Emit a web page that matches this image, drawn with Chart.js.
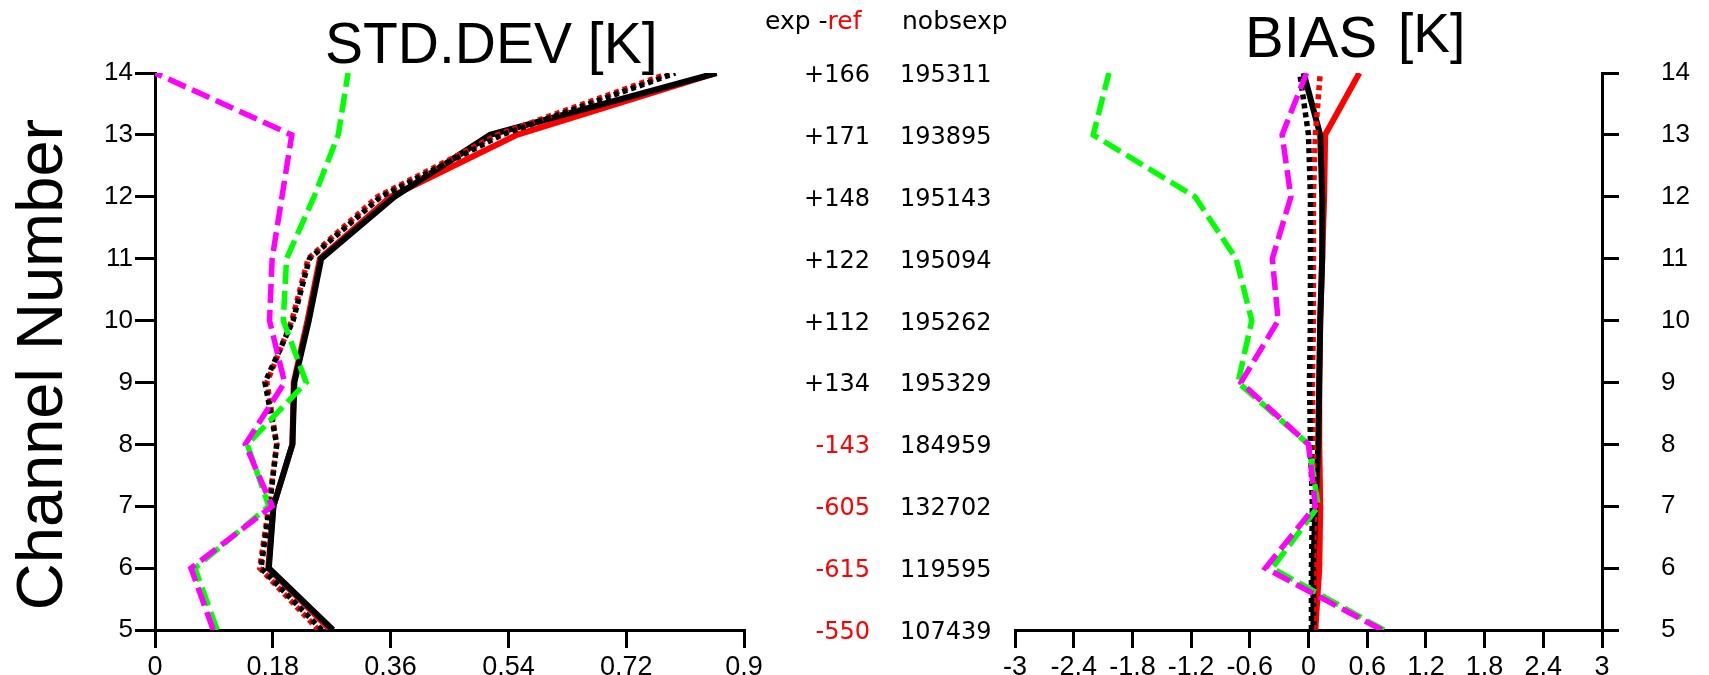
<!DOCTYPE html>
<html>
<head>
<meta charset="utf-8">
<title>STD.DEV / BIAS by channel</title>
<script src="https://cdn.jsdelivr.net/npm/chart.js@4.4.1/dist/chart.umd.min.js"></script>
<style>
  html, body { margin: 0; padding: 0; background: #fff; }
  #wrap { position: relative; width: 1709px; height: 675px; overflow: hidden; background: #fff; }
  #stdCanvas { position: absolute; left: 0; top: 0; }
  #biasCanvas { position: absolute; left: 1000px; top: 0; }
</style>
</head>
<body>
<div id="wrap">
  <canvas id="stdCanvas" width="1040" height="675"></canvas>
  <canvas id="biasCanvas" width="709" height="675"></canvas>
</div>
<script>
// Channel numbers (vertical axis), bottom to top
const channels = [5, 6, 7, 8, 9, 10, 11, 12, 13, 14];

// Tick labels
const stdTicks  = [0, 0.18, 0.36, 0.54, 0.72, 0.9];
const biasTicks = [-3, -2.4, -1.8, -1.2, -0.6, 0, 0.6, 1.2, 1.8, 2.4, 3];

// Standard deviation [K] per channel
const stdExpSolid   = [0.272, 0.174, 0.181, 0.210, 0.213, 0.235, 0.254, 0.366, 0.512, 0.858];
const stdRefSolid   = [0.268, 0.173, 0.181, 0.210, 0.212, 0.233, 0.252, 0.360, 0.553, 0.858];
const stdExpDotted  = [0.255, 0.162, 0.175, 0.186, 0.168, 0.211, 0.236, 0.345, 0.530, 0.795];
const stdRefDotted  = [0.250, 0.160, 0.174, 0.186, 0.171, 0.209, 0.234, 0.340, 0.523, 0.786];
const stdMagenta    = [0.089, 0.055, 0.179, 0.138, 0.198, 0.175, 0.179, 0.194, 0.209, 0.000];
const stdGreen      = [0.095, 0.061, 0.174, 0.141, 0.231, 0.196, 0.201, 0.243, 0.280, 0.295];

// Bias [K] per channel
const biasExpSolid  = [0.05, 0.05, 0.07, 0.10, 0.11, 0.12, 0.14, 0.14, 0.12, -0.05];
const biasRefSolid  = [0.07, 0.11, 0.12, 0.11, 0.11, 0.12, 0.14, 0.16, 0.17, 0.52];
const biasExpDotted = [0.03, 0.03, 0.04, 0.02, 0.01, 0.02, 0.02, 0.02, 0.00, -0.09];
const biasRefDotted = [0.05, 0.05, 0.06, 0.05, 0.04, 0.05, 0.05, 0.05, 0.07, 0.12];
const biasMagenta   = [0.75, -0.44, 0.07, 0.00, -0.69, -0.31, -0.37, -0.18, -0.27, -0.02];
const biasGreen     = [0.77, -0.37, 0.10, 0.00, -0.72, -0.58, -0.74, -1.16, -2.20, -2.04];

// Side columns: difference in observation count and observation count of exp
const expMinusRef = [-550, -615, -605, -143, 134, 112, 122, 148, 171, 166];
const nobsExp     = [107439, 119595, 132702, 184959, 195329, 195262, 195094, 195143, 193895, 195311];

const SANS = '"Liberation Sans", Arial, Helvetica, sans-serif';
const DEJAVU = '"DejaVu Sans", "Liberation Sans", sans-serif';

function pts(vals) {
  return channels.map((c, i) => ({ x: vals[i], y: c }));
}

function series(vals, color, kind) {
  const ds = {
    data: pts(vals),
    showLine: true,
    borderColor: color,
    backgroundColor: color,
    pointRadius: 0,
    pointHoverRadius: 0,
    fill: false,
    tension: 0,
    borderWidth: 5,
    borderCapStyle: 'butt',
    borderJoinStyle: 'miter'
  };
  if (kind === 'dot')  { ds.borderDash = [5, 4]; ds.borderWidth = 5.5; }
  if (kind === 'dash') { ds.borderDash = [19, 7]; ds.borderWidth = 5.5; }
  if (kind === 'solid') { ds.borderWidth = 6; }
  return ds;
}

function makeDatasets(ex, rf, exd, rfd, mg, gr) {
  // first entries are drawn on top
  return [
    series(mg, '#ff00ff', 'dash'),
    series(gr, '#00ff00', 'dash'),
    series(exd, '#000000', 'dot'),
    series(rfd, '#ff0000', 'dot'),
    series(ex, '#000000', 'solid'),
    series(rf, '#ff0000', 'solid')
  ];
}

function axisStyle(tickLen, fontSize, pad) {
  return {
    grid: { display: true, drawOnChartArea: false, drawTicks: true, tickLength: tickLen, color: '#000', lineWidth: 3 },
    border: { display: true, color: '#000', width: 3 },
    ticks: { color: '#000', font: { family: SANS, size: fontSize }, padding: pad, autoSkip: false, maxRotation: 0, minRotation: 0 }
  };
}

function fmt(v) {
  return String(Math.round(v * 100) / 100);
}

// Titles and the observation-count columns
const stdTextPlugin = {
  id: 'stdText',
  afterDraw(chart) {
    const ctx = chart.ctx;
    const y = chart.scales.y;
    ctx.save();
    ctx.fillStyle = '#000';
    ctx.textAlign = 'left';
    ctx.textBaseline = 'alphabetic';
    ctx.font = '57px ' + SANS;
    ctx.fillText('STD.DEV [K]', 325, 63);

    // vertical axis title
    ctx.save();
    ctx.translate(62, (y.top + y.bottom) / 2 + 13);
    ctx.rotate(-Math.PI / 2);
    ctx.textAlign = 'center';
    ctx.font = '65px ' + SANS;
    ctx.fillText('Channel Number', 0, 0);
    ctx.restore();

    // column headers
    ctx.font = '25px ' + DEJAVU;
    ctx.textAlign = 'left';
    const head1 = 'exp -';
    ctx.fillStyle = '#000';
    ctx.fillText(head1, 765, 29);
    ctx.fillStyle = '#ff0000';
    ctx.fillText('ref', 765 + ctx.measureText(head1).width, 29);
    ctx.fillStyle = '#000';
    ctx.fillText('nobsexp', 902, 29);

    // per-channel rows
    ctx.font = '24px ' + DEJAVU;
    channels.forEach((c, i) => {
      const py = y.getPixelForValue(c) + 9;
      const d = expMinusRef[i];
      ctx.textAlign = 'right';
      ctx.fillStyle = d < 0 ? '#ff0000' : '#000';
      ctx.fillText((d > 0 ? '+' : '') + d, 870, py);
      ctx.textAlign = 'left';
      ctx.fillStyle = '#000';
      ctx.fillText(String(nobsExp[i]), 900, py);
    });
    ctx.restore();
  }
};

const biasTextPlugin = {
  id: 'biasText',
  afterDraw(chart) {
    const ctx = chart.ctx;
    ctx.save();
    ctx.fillStyle = '#000';
    ctx.textAlign = 'left';
    ctx.textBaseline = 'alphabetic';
    ctx.font = '58px ' + SANS;
    ctx.fillText('BIAS', 245, 57);
    ctx.font = '55px ' + SANS;
    ctx.fillText('[K]', 398, 52);
    ctx.restore();
  }
};

// keep the vertical axes from reserving extra room for their end labels
function fitY(width) {
  return s => { s.width = width; s.paddingTop = 0; s.paddingBottom = 0; };
}

// Left panel: standard deviation
const sx = axisStyle(18, 27, 3);
const sy = axisStyle(20, 26, 2);
new Chart(document.getElementById('stdCanvas'), {
  type: 'scatter',
  data: { datasets: makeDatasets(stdExpSolid, stdRefSolid, stdExpDotted, stdRefDotted, stdMagenta, stdGreen) },
  options: {
    responsive: false,
    animation: false,
    devicePixelRatio: 1,
    layout: { padding: { top: 73, right: 296, left: 0, bottom: 0 } },
    plugins: { legend: { display: false }, tooltip: { enabled: false }, title: { display: false } },
    scales: {
      x: Object.assign({}, sx, {
        type: 'linear', position: 'bottom', min: stdTicks[0], max: stdTicks[stdTicks.length - 1],
        afterBuildTicks: s => { s.ticks = stdTicks.map(v => ({ value: v })); },
        ticks: Object.assign({}, sx.ticks, { callback: v => fmt(v) }),
        afterFit: s => { s.height = 45; }
      }),
      y: Object.assign({}, sy, {
        type: 'linear', position: 'left', min: channels[0], max: channels[channels.length - 1],
        afterBuildTicks: s => { s.ticks = channels.map(v => ({ value: v })); },
        ticks: Object.assign({}, sy.ticks, { callback: v => String(v) }),
        afterFit: fitY(155)
      })
    }
  },
  plugins: [stdTextPlugin]
});

// Right panel: bias
const bx = axisStyle(18, 27, 3);
const by = axisStyle(17, 26, 42);
new Chart(document.getElementById('biasCanvas'), {
  type: 'scatter',
  data: { datasets: makeDatasets(biasExpSolid, biasRefSolid, biasExpDotted, biasRefDotted, biasMagenta, biasGreen) },
  options: {
    responsive: false,
    animation: false,
    devicePixelRatio: 1,
    layout: { padding: { top: 73, right: 0, left: 15, bottom: 0 } },
    plugins: { legend: { display: false }, tooltip: { enabled: false }, title: { display: false } },
    scales: {
      x: Object.assign({}, bx, {
        type: 'linear', position: 'bottom', min: biasTicks[0], max: biasTicks[biasTicks.length - 1],
        afterBuildTicks: s => { s.ticks = biasTicks.map(v => ({ value: v })); },
        ticks: Object.assign({}, bx.ticks, { callback: v => fmt(v) }),
        afterFit: s => { s.height = 45; }
      }),
      y: Object.assign({}, by, {
        type: 'linear', position: 'right', min: channels[0], max: channels[channels.length - 1],
        afterBuildTicks: s => { s.ticks = channels.map(v => ({ value: v })); },
        ticks: Object.assign({}, by.ticks, { callback: v => String(v) }),
        afterFit: fitY(107)
      })
    }
  },
  plugins: [biasTextPlugin]
});
</script>
</body>
</html>
